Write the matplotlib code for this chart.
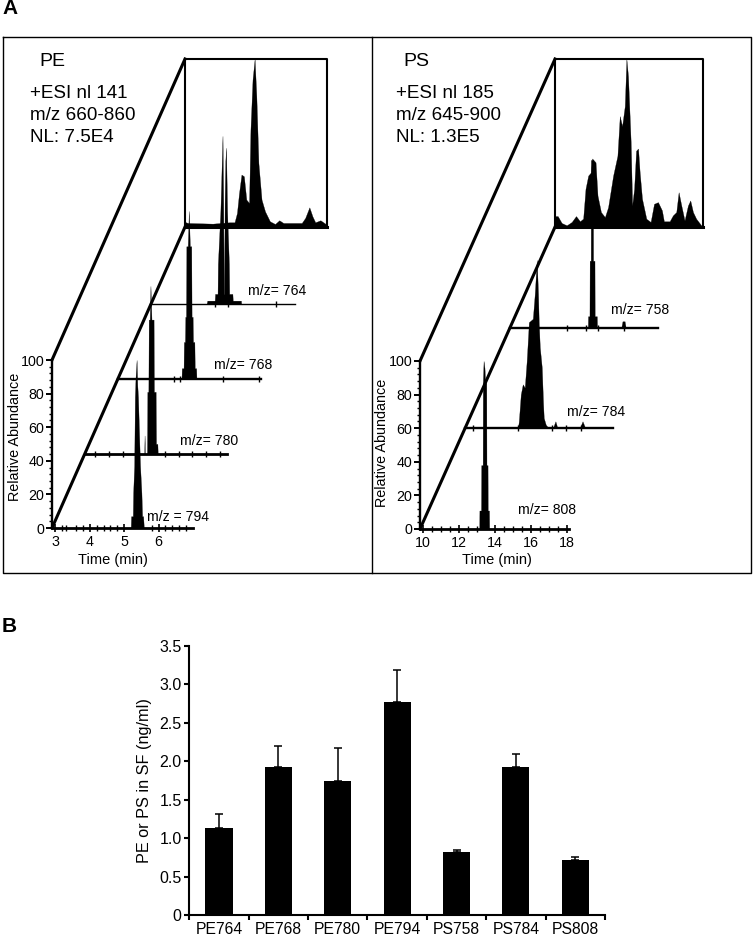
import matplotlib
matplotlib.use('Agg')
import matplotlib.pyplot as plt

plt.rcParams['font.family'] = ['Liberation Sans', 'DejaVu Sans']

W = 754
H = 936

# panel A, chromatograms: retention time (min) and relative abundance
PE_TIC_T = [2.9, 2.98, 3.70, 4.19, 4.33, 4.40, 4.46, 4.53, 4.60, 4.67, 4.75, 4.79, 4.85, 4.91, 4.96, 5.02,
            5.11, 5.21, 5.35, 5.50, 5.62, 5.74, 6.27, 6.37, 6.49, 6.58, 6.66, 6.81, 6.95, 7.0]
PE_TIC_A = [3, 2.4, 2, 2.8, 2.8, 8.3, 20.2, 31.2, 30.2, 16.3, 14.3, 57.9, 87.7, 100, 77.8, 38,
            16.3, 9.3, 3.4, 1.8, 4, 2.4, 2.4, 5.4, 11.7, 6.3, 2.8, 4, 2, 0.4]
PE764_T = [4.50, 4.52, 4.73, 4.74, 4.81, 4.82, 4.89, 4.93, 4.95, 4.97, 4.985, 4.995, 5.01, 5.03, 5.05, 5.08, 5.13,
           5.14, 5.23, 5.24, 5.47, 5.48]
PE764_A = [0, 2, 2, 6, 6, 24, 55, 85, 100, 60, 6, 6, 60, 85, 93, 55, 24, 6, 6, 2, 2, 0]
PE768_T = [4.72, 4.73, 4.78, 4.79, 4.82, 4.83, 4.85, 4.86, 4.90, 4.93, 4.96, 5.00, 5.01, 5.04, 5.05, 5.09, 5.10, 5.14, 5.15]
PE768_A = [0, 6.4, 6.4, 22, 22, 37, 37, 79, 79, 100, 79, 79, 37, 37, 22, 22, 6.4, 6.4, 0]
PE780_T = [4.61, 4.62, 4.63, 4.69, 4.70, 4.73, 4.74, 4.77, 4.79, 4.82, 4.88, 4.89, 4.94, 4.95, 4.99, 5.0]
PE780_A = [0, 11, 0, 0, 37, 37, 80, 80, 100, 80, 80, 37, 37, 6, 6, 0]
PE794_T = [5.19, 5.20, 5.25, 5.26, 5.29, 5.31, 5.33, 5.36, 5.38, 5.40, 5.43, 5.46, 5.50, 5.52, 5.55, 5.57]
PE794_A = [0, 7, 7, 21, 37, 78, 90, 100, 85, 78, 57, 37, 21, 7, 7, 0]

PS_TIC_T = [9.85, 10.0, 10.22, 10.5, 10.78, 11.02, 11.24, 11.42, 11.55, 11.70, 11.85, 11.92, 12.11, 12.22, 12.41,
            12.63, 12.81, 13.09, 13.33, 13.46, 13.59, 13.74, 13.83, 13.92, 14.07, 14.15, 14.26, 14.37, 14.48,
            14.57, 14.70, 14.94, 15.18, 15.37, 15.59, 15.81, 15.92, 16.24, 16.42, 16.61, 16.74, 16.89, 17.07,
            17.26, 17.39, 17.54, 17.72, 18.0]
PS_TIC_A = [6.5, 6.5, 2.4, 1, 3, 6.5, 3.4, 5, 22.7, 30.6, 32.5, 40.8, 38.5, 18.7, 8.9,
            5.9, 11.8, 30.6, 42.4, 66, 60, 72, 100, 89.7, 50.3, 12.8, 22.7, 45.4, 46.7,
            32.5, 16.8, 4.9, 3, 13.8, 14.8, 9.9, 3.4, 3.4, 6.9, 8.9, 20.7, 12.8, 3.9,
            12.8, 15.8, 8.9, 4.9, 1]
PS758_T = [14.19, 14.20, 14.28, 14.29, 14.35, 14.36, 14.47, 14.48, 14.56, 14.57, 14.69, 14.70, 16.05, 16.12, 16.24, 16.3]
PS758_A = [0, 7, 7, 40, 40, 100, 100, 40, 40, 7, 7, 0, 0, 4, 4, 0]
PS784_T = [12.80, 12.85, 12.96, 13.07, 13.18, 13.29, 13.41, 13.63, 13.74, 13.85, 13.92, 13.96, 14.02, 14.13, 14.2, 14.24,
           14.35, 14.5, 14.75, 14.89, 15.0, 16.25, 16.4, 16.55]
PS784_A = [0, 4, 20, 26, 24, 40, 63, 65, 80, 100, 80, 63, 48, 36, 15, 6, 2, 0, 0, 4, 0, 0, 4, 0]
PS808_T = [13.13, 13.14, 13.23, 13.24, 13.32, 13.33, 13.37, 13.42, 13.46, 13.52, 13.53, 13.59, 13.60, 13.67, 13.68]
PS808_A = [0, 11, 11, 38, 38, 87, 100, 96, 87, 87, 38, 38, 11, 11, 0]

PE764_TICKS = [4.74, 5.1, 6.47]
PE768_TICKS = [4.51, 4.67, 5.91, 6.95]
PE780_TICKS = [3.2, 3.6, 4.0, 4.4, 5.2, 5.6, 6.0, 6.4, 6.8]
PE794_TICKS = [3.0, 3.2, 3.3, 3.6, 3.8, 4.0, 4.2, 4.4, 4.6, 4.8, 5.0, 5.8, 6.0, 6.2, 6.4, 6.6, 6.8]
PS758_TICKS = [13.0, 14.1, 14.75, 16.2]
PS784_TICKS = [10.3, 12.8, 14.7, 15.5, 16.3]

PE_XTICKS = [3, 4, 5, 6]
PS_XTICKS = [10, 12, 14, 16, 18]
ABUND_TICKS = [0, 20, 40, 60, 80, 100]

# panel B
CATEGORIES = ['PE764', 'PE768', 'PE780', 'PE794', 'PS758', 'PS784', 'PS808']
VALUES = [1.13, 1.92, 1.74, 2.77, 0.82, 1.93, 0.72]
ERR_TOP = [1.31, 2.20, 2.17, 3.19, 0.85, 2.09, 0.76]
B_YTICKS = [0, 0.5, 1.0, 1.5, 2.0, 2.5, 3.0, 3.5]
B_YLABELS = ['0', '0.5', '1.0', '1.5', '2.0', '2.5', '3.0', '3.5']


def add_axes_px(fig, left, top, right, bottom):
    return fig.add_axes([left / W, 1 - bottom / H, (right - left) / W, (bottom - top) / H])


def trace(fig, left, base, width, xlim, t, a, ticks, lw=1.5):
    ax = add_axes_px(fig, left, base - 168, left + width, base)
    ax.patch.set_alpha(0)
    ax.fill_between(t, a, color='black', lw=0.2, clip_on=False)
    ax.set_xlim(xlim)
    ax.set_ylim(0, 100)
    ax.set_yticks([])
    ax.set_xticks(ticks)
    ax.set_xticklabels([])
    ax.tick_params(axis='x', direction='inout', length=5, width=1)
    for s in ['top', 'left', 'right']:
        ax.spines[s].set_visible(False)
    ax.spines['bottom'].set_linewidth(lw)
    return ax


def front_axes(ax, xticks, minor):
    ax.spines['left'].set_visible(True)
    ax.spines['left'].set_linewidth(1.7)
    ax.set_yticks(ABUND_TICKS)
    ax.set_yticks(range(0, 100, 4), minor=True)
    ax.set_xticks(xticks)
    ax.set_xticklabels([str(x) for x in xticks], fontsize=10.3)
    ax.set_xticks(minor, minor=True)
    ax.tick_params(axis='y', which='major', length=4, width=1.4, labelsize=10.3, pad=1.5)
    ax.tick_params(axis='y', which='minor', length=2, width=1)
    ax.tick_params(axis='x', which='major', direction='inout', length=6, width=1.2, pad=2)
    ax.tick_params(axis='x', which='minor', direction='inout', length=4, width=1)


fig = plt.figure(figsize=(W / 100, H / 100), dpi=100)

# overlay in pixel units for frame, perspective lines and labels
bg = fig.add_axes([0, 0, 1, 1])
bg.set_xlim(0, W)
bg.set_ylim(H, 0)
bg.axis('off')

bg.plot([3, 751, 751, 3, 3], [37, 37, 573, 573, 37], color='black', lw=1.0)
bg.plot([372, 372], [37, 573], color='black', lw=1.0)

# perspective lines and the TIC boxes
bg.plot([52, 185], [360, 59], color='black', lw=2.2)
bg.plot([52, 185], [528, 227], color='black', lw=2.2)
bg.plot([420, 555], [361, 59], color='black', lw=2.2)
bg.plot([420, 555], [529, 227], color='black', lw=2.2)
bg.plot([185, 327, 327, 185, 185], [59, 59, 227, 227, 59], color='black', lw=1.5)
bg.plot([555, 703, 703, 555, 555], [59, 59, 227, 227, 59], color='black', lw=1.5)

bg.text(2, 8, 'A', fontsize=15, fontweight='bold', va='center')
bg.text(2, 627, 'B', fontsize=15, fontweight='bold', va='center')

bg.text(39, 62, 'PE', fontsize=14, va='center')
bg.text(30, 93, '+ESI nl 141', fontsize=13.6, va='center')
bg.text(30, 115, 'm/z 660-860', fontsize=13.6, va='center')
bg.text(30, 137, 'NL: 7.5E4', fontsize=13.6, va='center')
bg.text(403, 62, 'PS', fontsize=14, va='center')
bg.text(396, 93, '+ESI nl 185', fontsize=13.6, va='center')
bg.text(396, 115, 'm/z 645-900', fontsize=13.6, va='center')
bg.text(396, 137, 'NL: 1.3E5', fontsize=13.6, va='center')

bg.text(248, 291, 'm/z= 764', fontsize=10.1, va='center')
bg.text(214, 365, 'm/z= 768', fontsize=10.1, va='center')
bg.text(180, 441, 'm/z= 780', fontsize=10.1, va='center')
bg.text(147, 517, 'm/z = 794', fontsize=10.1, va='center')
bg.text(611, 310, 'm/z= 758', fontsize=10.1, va='center')
bg.text(567, 412, 'm/z= 784', fontsize=10.1, va='center')
bg.text(518, 510, 'm/z= 808', fontsize=10.1, va='center')

bg.text(113, 560, 'Time (min)', fontsize=10.5, ha='center', va='center')
bg.text(497, 560, 'Time (min)', fontsize=10.5, ha='center', va='center')
bg.text(15, 437, 'Relative Abundance', fontsize=10.4, rotation=90, ha='center', va='center')
bg.text(382, 443, 'Relative Abundance', fontsize=10.4, rotation=90, ha='center', va='center')

# PE stack, back to front
PE_LIM = (2.9, 7.0)
trace(fig, 185, 227, 142, PE_LIM, PE_TIC_T, PE_TIC_A, [], lw=2.2)
trace(fig, 150, 304, 145, PE_LIM, PE764_T, PE764_A, PE764_TICKS, lw=1.0)
trace(fig, 118, 379, 143, PE_LIM, PE768_T, PE768_A, PE768_TICKS, lw=1.7)
trace(fig, 85, 454, 142, PE_LIM, PE780_T, PE780_A, PE780_TICKS, lw=2.0)
ax = trace(fig, 52, 528, 141, PE_LIM, PE794_T, PE794_A, [], lw=2.0)
front_axes(ax, PE_XTICKS, PE794_TICKS)

# PS stack
PS_LIM = (9.85, 18.1)
trace(fig, 555, 227, 148, PS_LIM, PS_TIC_T, PS_TIC_A, [], lw=2.2)
trace(fig, 510, 328, 148, PS_LIM, PS758_T, PS758_A, PS758_TICKS, lw=1.7)
trace(fig, 465, 428, 148, PS_LIM, PS784_T, PS784_A, PS784_TICKS, lw=1.7)
ax = trace(fig, 420, 529, 149, PS_LIM, PS808_T, PS808_A, [], lw=2.0)
front_axes(ax, PS_XTICKS, [10.5, 11, 11.5, 12.5, 13, 14.5, 15, 15.5, 16.5, 17, 17.5])

# panel B bars
axb = add_axes_px(fig, 189.3, 645.7, 605, 915.3)
xpos = [i + 0.5 for i in range(len(CATEGORIES))]
err = [t - v for t, v in zip(ERR_TOP, VALUES)]
axb.bar(xpos, VALUES, width=0.455, color='black')
axb.errorbar(xpos, VALUES, yerr=[[0] * len(err), err], fmt='none', ecolor='black', elinewidth=1.1, capsize=3.2,
             capthick=1.1)
axb.set_xlim(0, 7)
axb.set_ylim(0, 3.5)
axb.set_yticks(B_YTICKS)
axb.set_yticklabels(B_YLABELS, fontsize=11.5)
axb.set_xticks(range(8))
axb.set_xticklabels([])
axb.set_xticks(xpos, minor=True)
axb.set_xticklabels(CATEGORIES, minor=True, fontsize=11.3)
axb.tick_params(axis='x', which='minor', length=0, pad=5)
axb.tick_params(axis='x', which='major', length=3.5, width=1.5)
axb.tick_params(axis='y', length=3.5, width=1.5, pad=2)
axb.set_ylabel('PE or PS in SF (ng/ml)', fontsize=11.7, labelpad=5)
axb.spines['top'].set_visible(False)
axb.spines['right'].set_visible(False)
axb.spines['left'].set_linewidth(1.5)
axb.spines['bottom'].set_linewidth(1.5)

fig.savefig('out.png', dpi=100)
